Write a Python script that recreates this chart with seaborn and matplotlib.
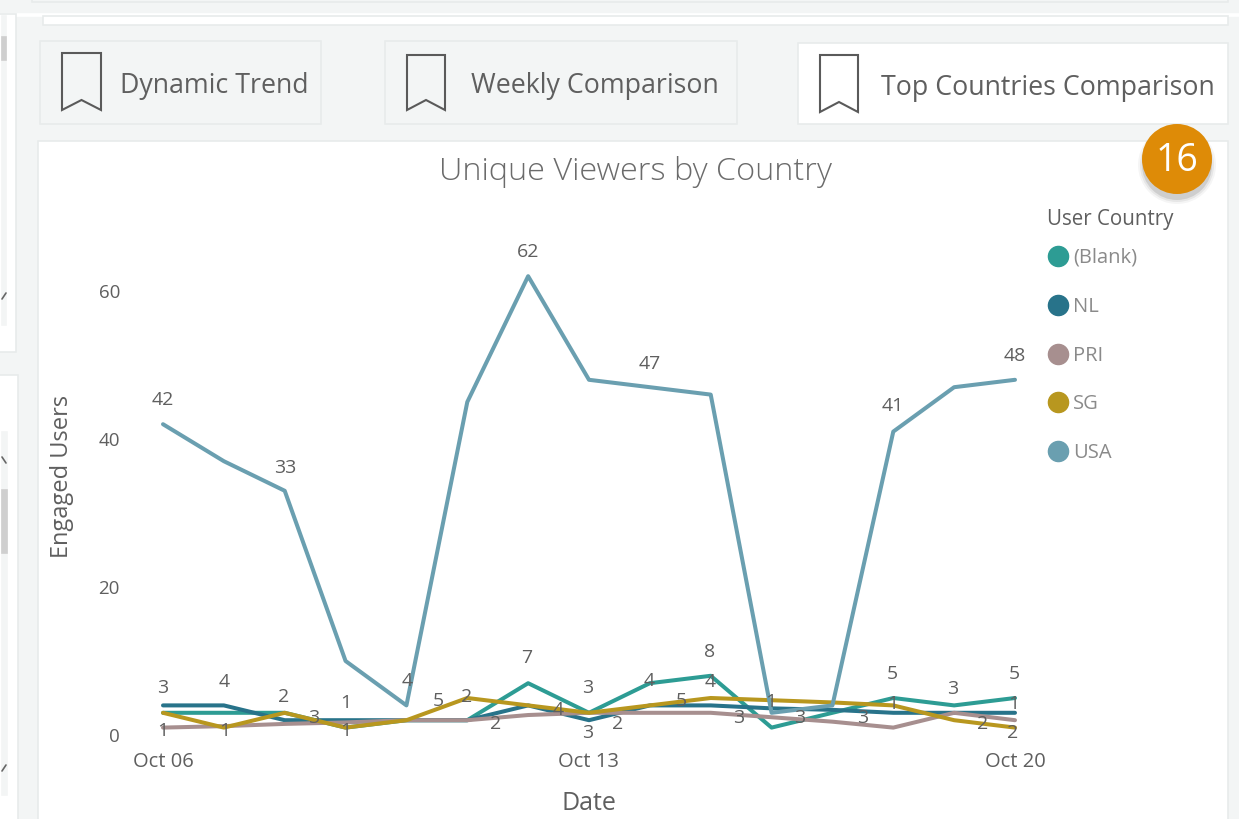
import matplotlib.pyplot as plt
from matplotlib.lines import Line2D
from matplotlib.patches import Circle, Polygon, Rectangle
import pandas as pd
import seaborn as sns

sns.set_style("white")
plt.rcParams["font.family"] = ["Open Sans", "DejaVu Sans"]

dates = pd.date_range("2019-10-06", "2019-10-20")
countries = ["(Blank)", "NL", "PRI", "SG", "USA"]
colors = ["#2d9c94", "#28738a", "#a78f8f", "#b8971f", "#6a9fb0"]

blank = [3, 3, 3, 1, 2, 2, 7, 3, 7, 8, 1, 3, 5, 4, 5]
nl = [4, 4, 2, 2, 2, 2, 4, 2, 4, 4, 3.6, 3.4, 3, 3, 3]
pri = [1, 1.2, 1.5, 1.7, 2, 2, 2.7, 3, 3, 3, 2.4, 1.8, 1, 3, 2]
sg = [3, 1, 3, 1, 2, 5, 4, 3, 4, 5, 4.7, 4.4, 4, 2, 1]
usa = [42, 37, 33, 10, 4, 45, 62, 48, 47, 46, 3, 4, 41, 47, 48]

label_texts = ["42", "33", "62", "47", "41", "48",
               "3", "4", "2", "3", "1", "4", "5", "2", "2", "7", "3", "4", "3",
               "1", "1", "1", "8", "4", "4", "5", "2", "3", "1", "3", "3",
               "5", "1", "3", "2", "5", "1", "2"]
label_pos = [(163, 400), (285, 468), (528, 252), (650, 364), (893, 406), (1015, 356),
             (163, 688), (224, 682), (284, 697), (314, 718), (346, 703), (407, 681),
             (438, 701), (467, 697), (496, 724), (527, 658), (588, 688), (558, 710),
             (588, 733), (163, 731), (225, 731), (346, 731), (710, 652), (649, 681),
             (710, 682), (681, 701), (618, 724), (739, 718), (771, 702), (800, 718),
             (863, 718), (892, 674), (893, 704), (953, 689), (983, 724), (1014, 674),
             (1014, 704), (1013, 733)]

W, H = 1239, 819
BG = "#f3f5f5"
EDGE = "#e8ebeb"
TEXT = "#5f5f5f"

fig = plt.figure(figsize=(W / 100, H / 100), dpi=100, facecolor=BG)

# page furniture, in pixel coordinates
page = fig.add_axes([0, 0, 1, 1], zorder=0)
page.set_xlim(0, W)
page.set_ylim(H, 0)
page.axis("off")


def box(x0, y0, x1, y1, fc="white", ec=EDGE):
    page.add_patch(Rectangle((x0, y0), x1 - x0, y1 - y0, fc=fc, ec=ec, lw=1.2))


def bookmark(x0, y0, x1, y1):
    xm = (x0 + x1) / 2
    pts = [(x0, y0), (x1, y0), (x1, y1), (xm, y1 - 10), (x0, y1)]
    page.add_patch(Polygon(pts, closed=True, fc="none", ec="#5a5a5a", lw=1.5))


box(-2, 14, W + 2, 16, ec="white")
box(32, -5, 1228, 2, fc=BG)
box(43, 16, 1228, 25)

# left edge: two side panels with scrollbars
box(-5, 14, 16, 352)
box(-5, 375, 18, 830)
box(2, 16, 6, 325, fc=BG, ec=BG)
box(2, 37, 6, 60, fc="#cfcfcf", ec="#cfcfcf")
box(2, 432, 7, 795, fc=BG, ec=BG)
box(2, 490, 7, 553, fc="#cfcfcf", ec="#cfcfcf")
for cx, cy, d in [(4, 296, 1), (4, 460, -1), (4, 768, 1)]:
    page.plot([cx - 2, cx + 2], [cy + 3 * d, cy - 3 * d], color="#666666", lw=1.2)

box(40, 41, 321, 124, fc=BG)
box(385, 41, 737, 124, fc=BG)
box(798, 43, 1228, 124)
box(38, 141, 1228, 830)

bookmark(62, 53, 101, 110)
bookmark(407, 55, 445, 110)
bookmark(820, 55, 858, 112)
page.text(120, 86, "Dynamic Trend", fontsize=19.3, color=TEXT, va="center")
page.text(471, 86, "Weekly Comparison", fontsize=19.3, color=TEXT, va="center")
page.text(881, 88, "Top Countries Comparison", fontsize=19.3, color=TEXT, va="center")

for r, a in [(39, 0.04), (37, 0.06), (35, 0.1)]:
    page.add_patch(Circle((1177, 165), r, fc="black", ec="none", alpha=a))
page.add_patch(Circle((1177, 159), 35, fc="#de8b07", ec="none"))
page.text(1177, 161, "16", fontsize=27, color="white", ha="center", va="center")

page.text(635.5, 172, "Unique Viewers by Country", fontsize=23.4, color="#6b6b6b",
          fontweight="light", ha="center", va="center")
page.text(1047, 219, "User Country", fontsize=14.8, color=TEXT, va="center")

# chart
x0, x1, y0, y1 = 163, 1015, 735, 217
ax = fig.add_axes([x0 / W, 1 - y0 / H, (x1 - x0) / W, (y0 - y1) / H], zorder=1)
ax.patch.set_visible(False)

df = pd.DataFrame({"Date": dates, "(Blank)": blank, "NL": nl, "PRI": pri, "SG": sg, "USA": usa})
df = df.melt(id_vars="Date", var_name="User Country", value_name="Engaged Users")

sns.lineplot(data=df, x="Date", y="Engaged Users", hue="User Country",
             hue_order=countries, palette=colors, linewidth=2.9, legend=False,
             clip_on=False, ax=ax)

ax.set_xlim(dates[0], dates[-1])
ax.set_ylim(0, 70)
ax.set_xticks([dates[0], dates[7], dates[14]])
ax.set_xticklabels(["Oct 06", "Oct 13", "Oct 20"])
ax.set_yticks([0, 20, 40, 60])
ax.tick_params(axis="x", length=0, pad=12.5, labelsize=14.5, labelcolor=TEXT)
ax.tick_params(axis="y", length=0, pad=31, labelsize=13.5, labelcolor=TEXT)
ax.set_xlabel("Date", fontsize=18, color=TEXT, va="center")
ax.set_ylabel("Engaged Users", fontsize=17, color=TEXT, va="center")
ax.xaxis.set_label_coords(0.5, -68 / (y0 - y1))
ax.yaxis.set_label_coords(-101 / (x1 - x0), 0.5)
sns.despine(ax=ax, left=True, bottom=True)

for t, (px, py) in zip(label_texts, label_pos):
    ax.text(px, py, t, transform=page.transData, fontsize=14, color=TEXT,
            ha="center", va="center", clip_on=False)

handles = [Line2D([], [], ls="none", marker="o", ms=14.5, mfc=c, mec=c) for c in colors]
leg = ax.legend(handles, countries, loc="upper left", borderaxespad=0, borderpad=0,
                bbox_to_anchor=(1048, 248), bbox_transform=page.transData,
                frameon=False, fontsize=14.5, labelcolor="#8a8a8a",
                labelspacing=1.43, handlelength=1.0, handletextpad=0.25)

fig.savefig("out.png", dpi=100)
plt.close(fig)
